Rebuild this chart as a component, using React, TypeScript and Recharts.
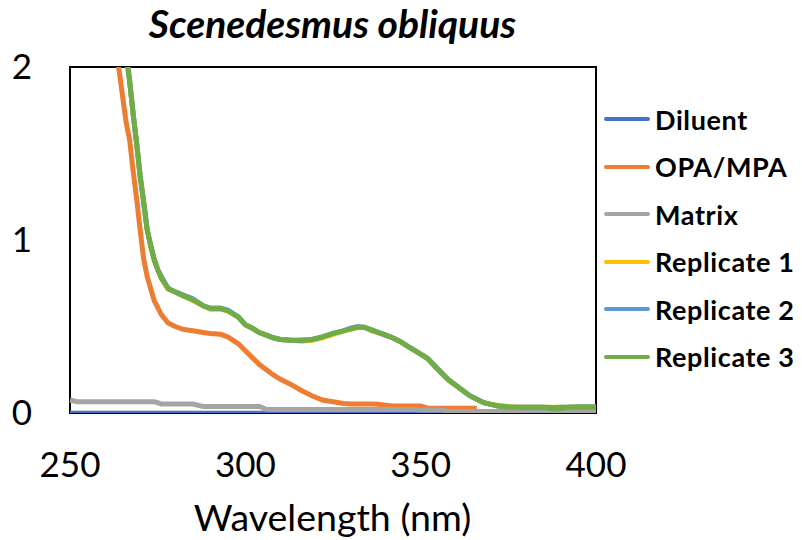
import { LineChart, Line, XAxis, YAxis, ReferenceArea } from "recharts";

const wavelengths = [
  250, 252, 255, 260, 263, 264, 266, 267, 268, 269, 270, 271, 272, 273, 274, 275, 276, 278, 280, 282,
  285, 288, 290, 293, 295, 298, 300, 302, 304, 306, 308, 310, 313, 316, 319, 322, 325, 328, 330, 332,
  334, 336, 338, 340, 342, 344, 346, 348, 350, 352, 354, 356, 358, 360, 362, 364, 366, 368, 370, 372,
  375, 378, 380, 385, 388, 390, 392, 395, 400,
];

const diluent = [
  0.004, 0.004, 0.004, 0.004, 0.004, 0.004, 0.004, 0.004, 0.004, 0.004, 0.004, 0.004, 0.004, 0.004, 0.004, 0.004, 0.004, 0.004, 0.004, 0.004,
  0.004, 0.004, 0.004, 0.004, 0.004, 0.004, 0.004, 0.004, 0.004, 0.004, 0.004, 0.004, 0.004, 0.004, 0.004, 0.004, 0.004, 0.004, 0.004, 0.004,
  0.004, 0.004, 0.004, 0.004, 0.004, 0.004, 0.004, 0.004, 0.004, 0.004, 0.004, 0.004, 0.004, 0.004, 0.004, 0.004, 0.004, 0.004, 0.004, 0.004,
  0.004, 0.004, 0.004, 0.004, 0.004, 0.004, 0.004, 0.004, 0.004,
];

const opaMpa = [
  3.4, 3.25, 3.0, 2.45, 2.1, 1.98, 1.68, 1.58, 1.4, 1.24, 1.06, 0.89, 0.79, 0.72, 0.65, 0.61, 0.57, 0.52, 0.5, 0.485,
  0.475, 0.465, 0.46, 0.455, 0.44, 0.4, 0.36, 0.32, 0.28, 0.25, 0.22, 0.195, 0.165, 0.13, 0.1, 0.075, 0.065, 0.055, 0.052, 0.052,
  0.052, 0.052, 0.05, 0.045, 0.04, 0.04, 0.04, 0.04, 0.04, 0.028, 0.027, 0.027, 0.027, 0.027, 0.027, 0.027, 0.027, null, null, null,
  null, null, null, null, null, null, null, null, null,
];

const matrix = [
  0.075, 0.065, 0.065, 0.065, 0.065, 0.065, 0.065, 0.065, 0.065, 0.065, 0.065, 0.065, 0.065, 0.065, 0.065, 0.06, 0.052, 0.052, 0.052, 0.052,
  0.052, 0.038, 0.038, 0.038, 0.038, 0.038, 0.038, 0.038, 0.038, 0.021, 0.02, 0.02, 0.02, 0.02, 0.02, 0.02, 0.02, 0.02, 0.02, 0.02,
  0.02, 0.02, 0.02, 0.02, 0.02, 0.02, 0.02, 0.02, 0.018, 0.018, 0.018, 0.018, 0.008, 0.008, 0.008, 0.008, 0.008, 0.008, 0.008, 0.008,
  0.008, 0.008, 0.008, 0.008, 0.008, 0.008, 0.008, 0.008, 0.008,
];

const replicate1 = [
  4.0, 3.8, 3.4, 2.9, 2.55, 2.4, 2.08, 1.92, 1.73, 1.56, 1.37, 1.22, 1.06, 0.96, 0.88, 0.83, 0.78, 0.715, 0.7, 0.68,
  0.65, 0.62, 0.6, 0.6, 0.59, 0.555, 0.51, 0.49, 0.465, 0.45, 0.435, 0.425, 0.42, 0.415, 0.42, 0.435, 0.455, 0.475, 0.485, 0.495,
  0.495, 0.475, 0.465, 0.45, 0.435, 0.415, 0.39, 0.365, 0.34, 0.315, 0.27, 0.235, 0.19, 0.16, 0.13, 0.1, 0.08, 0.06, 0.05, 0.045,
  0.038, 0.033, 0.033, 0.033, 0.033, 0.033, 0.033, 0.035, 0.035,
];

const replicate2 = [
  4.0, 3.8, 3.4, 2.9, 2.55, 2.4, 2.08, 1.92, 1.73, 1.56, 1.37, 1.22, 1.06, 0.97, 0.89, 0.83, 0.79, 0.72, 0.7, 0.685,
  0.66, 0.62, 0.605, 0.605, 0.595, 0.555, 0.51, 0.49, 0.465, 0.45, 0.435, 0.425, 0.42, 0.42, 0.425, 0.44, 0.46, 0.475, 0.49, 0.5,
  0.495, 0.48, 0.465, 0.45, 0.435, 0.415, 0.39, 0.365, 0.34, 0.315, 0.275, 0.23, 0.19, 0.16, 0.13, 0.1, 0.08, 0.06, 0.05, 0.04,
  0.035, 0.033, 0.033, 0.033, 0.03, 0.033, 0.033, 0.035, 0.035,
];

const replicate3 = [
  4.0, 3.8, 3.4, 2.9, 2.55, 2.4, 2.08, 1.92, 1.73, 1.56, 1.37, 1.22, 1.06, 0.97, 0.89, 0.83, 0.78, 0.72, 0.7, 0.68,
  0.655, 0.62, 0.605, 0.605, 0.59, 0.555, 0.51, 0.49, 0.465, 0.45, 0.435, 0.425, 0.42, 0.42, 0.425, 0.44, 0.46, 0.475, 0.485, 0.495,
  0.495, 0.48, 0.465, 0.45, 0.435, 0.415, 0.39, 0.365, 0.34, 0.315, 0.27, 0.23, 0.19, 0.16, 0.13, 0.1, 0.08, 0.06, 0.05, 0.04,
  0.035, 0.033, 0.033, 0.033, 0.025, 0.027, 0.033, 0.035, 0.035,
];

const xTicks = [250, 300, 350, 400];
const yTicks = [0, 1, 2];

const series = [
  { key: "diluent", name: "Diluent", color: "#4472C4", width: 3, values: diluent },
  { key: "opaMpa", name: "OPA/MPA", color: "#ED7D31", width: 5, values: opaMpa },
  { key: "matrix", name: "Matrix", color: "#A5A5A5", width: 5, values: matrix },
  { key: "rep1", name: "Replicate 1", color: "#FFC000", width: 5, values: replicate1 },
  { key: "rep2", name: "Replicate 2", color: "#5B9BD5", width: 5, values: replicate2 },
  { key: "rep3", name: "Replicate 3", color: "#70AD47", width: 5, values: replicate3 },
];

const data = wavelengths.map((wl, i) => {
  const row: Record<string, number | null> = { wl };
  series.forEach((s) => {
    row[s.key] = s.values[i];
  });
  return row;
});

const font = "Lato, 'Open Sans', sans-serif";

function LegendBox() {
  return (
    <div style={{ position: "absolute", left: 604, top: 95.5, fontFamily: font }}>
      {series.map((s) => (
        <div key={s.key} style={{ display: "flex", alignItems: "center", height: 47.5 }}>
          <div style={{ width: 46, height: 4, background: s.color, borderRadius: 2, marginRight: 5 }} />
          <span style={{ fontSize: 27, fontWeight: 700, letterSpacing: 0.6, color: "#000", whiteSpace: "nowrap" }}>
            {s.name}
          </span>
        </div>
      ))}
    </div>
  );
}

export default function App() {
  return (
    <div style={{ position: "absolute", left: 0, top: 0, width: 802, height: 540, background: "#fff" }}>
      <div
        style={{
          position: "absolute",
          left: 0,
          width: 665,
          top: 0,
          textAlign: "center",
          fontFamily: font,
          fontSize: 39,
          fontWeight: 700,
          fontStyle: "italic",
          lineHeight: "47px",
        }}
      >
        Scenedesmus obliquus
      </div>
      <LineChart
        width={802}
        height={540}
        data={data}
        margin={{ top: 67, right: 206, bottom: 67, left: 10 }}
      >
        <ReferenceArea x1={250} x2={400} y1={0} y2={2} fill="none" stroke="#000" strokeWidth={2} />
        <XAxis
          dataKey="wl"
          type="number"
          domain={[250, 400]}
          ticks={xTicks}
          height={60}
          axisLine={false}
          tickLine={false}
          tickSize={0}
          tickMargin={39}
          tick={{ fontSize: 35, fill: "#000", fontFamily: font }}
        />
        <YAxis
          domain={[0, 2]}
          ticks={yTicks}
          allowDataOverflow
          width={60}
          axisLine={false}
          tickLine={false}
          tickSize={0}
          tickMargin={38}
          tick={{ fontSize: 35, fill: "#000", fontFamily: font }}
        />
        {series.map((s) => (
          <Line
            key={s.key}
            dataKey={s.key}
            name={s.name}
            stroke={s.color}
            strokeWidth={s.width}
            dot={false}
            activeDot={false}
            type="linear"
            isAnimationActive={false}
          />
        ))}
      </LineChart>
      <LegendBox />
      <div
        style={{
          position: "absolute",
          left: 0,
          width: 665,
          top: 494,
          textAlign: "center",
          fontFamily: font,
          fontSize: 37.5,
          lineHeight: "45px",
        }}
      >
        Wavelength (nm)
      </div>
    </div>
  );
}
